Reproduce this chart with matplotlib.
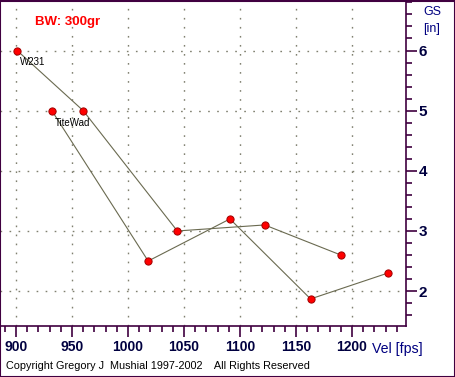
import matplotlib.pyplot as plt
from matplotlib.patches import Rectangle
from matplotlib.ticker import MultipleLocator

# group size vs velocity, two powders
w231_vel = [901, 960, 1044, 1122, 1190]
w231_gs = [6.0, 5.0, 3.0, 3.1, 2.6]
tw_vel = [932, 1018, 1091, 1163, 1232]
tw_gs = [5.0, 2.5, 3.2, 1.87, 2.3]
series_names = ["W231", "TiteWad"]
x_ticks = [900, 950, 1000, 1050, 1100, 1150, 1200]
y_ticks = [2, 3, 4, 5, 6]

W, H = 456, 377
fig = plt.figure(figsize=(W / 100, H / 100), dpi=100)
fig.patch.set_facecolor("white")

ax = fig.add_axes([0, (H - 326) / H, 406 / W, 326 / H])
ax.set_xlim(885.7, 1248.2)
ax.set_ylim(1.42, 6.84)

spine_col = "#400040"
line_col = "#6a6a50"
label_col = "#000040"

for s in ["left", "top"]:
    ax.spines[s].set_visible(False)
for s in ["right", "bottom"]:
    ax.spines[s].set_color(spine_col)
    ax.spines[s].set_linewidth(1.2)

ax.yaxis.tick_right()
ax.set_xticks(x_ticks)
ax.set_yticks(y_ticks)
ax.xaxis.set_minor_locator(MultipleLocator(10))
ax.yaxis.set_minor_locator(MultipleLocator(0.2))
ax.tick_params(axis="both", which="major", direction="out", length=8, width=1.2,
               color=spine_col, labelcolor=label_col)
ax.tick_params(axis="both", which="minor", direction="out", length=4, width=1.2,
               color=spine_col)
ax.tick_params(axis="x", pad=2)
ax.tick_params(axis="y", pad=1)
ax.set_xticklabels([str(v) for v in x_ticks], fontweight="bold", family="Liberation Sans",
                   fontsize=10)
ax.set_yticklabels([str(v) for v in y_ticks], fontweight="bold", family="Liberation Sans",
                   fontsize=11)

ax.grid(True, which="major", color="#808070", linestyle=(0, (1.2, 5.3)), linewidth=1.0)

for vel, gs, name in [(w231_vel, w231_gs, series_names[0]), (tw_vel, tw_gs, series_names[1])]:
    ax.plot(vel, gs, color=line_col, linewidth=0.8, zorder=3)
    ax.plot(vel, gs, linestyle="none", marker="o", markersize=5.2,
            markerfacecolor="#ff0000", markeredgecolor="#a00000", markeredgewidth=0.7, zorder=4)
    ax.annotate(name, (vel[0], gs[0]), xytext=(2, -5), textcoords="offset points",
                ha="left", va="top", fontsize=7, family="Liberation Sans", color="black")

fig.text(35 / W, 1 - 22 / H, "BW: 300gr", color="#ff0000", fontsize=9.5, fontweight="bold",
         family="Liberation Sans", ha="left", va="center")
fig.text(432 / W, 1 - 12 / H, "GS", color="#000080", fontsize=9,
         family="Liberation Sans", ha="center", va="center")
fig.text(432 / W, 1 - 29 / H, "[in]", color="#000080", fontsize=9,
         family="Liberation Sans", ha="center", va="center")
fig.text(372 / W, 1 - 349 / H, "Vel [fps]", color="#000080", fontsize=10.2,
         family="Liberation Sans", ha="left", va="center")
fig.text(6 / W, 1 - 366 / H, "Copyright Gregory J  Mushial 1997-2002    All Rights Reserved",
         color="black", fontsize=7.8, family="Liberation Sans", ha="left", va="center")

fig.patches.append(Rectangle((0.5 / W, 0.5 / H), 1 - 1.5 / W, 1 - 1.5 / H, transform=fig.transFigure,
                             fill=False, edgecolor=spine_col, linewidth=1.5))

fig.savefig("out.png", dpi=100)
